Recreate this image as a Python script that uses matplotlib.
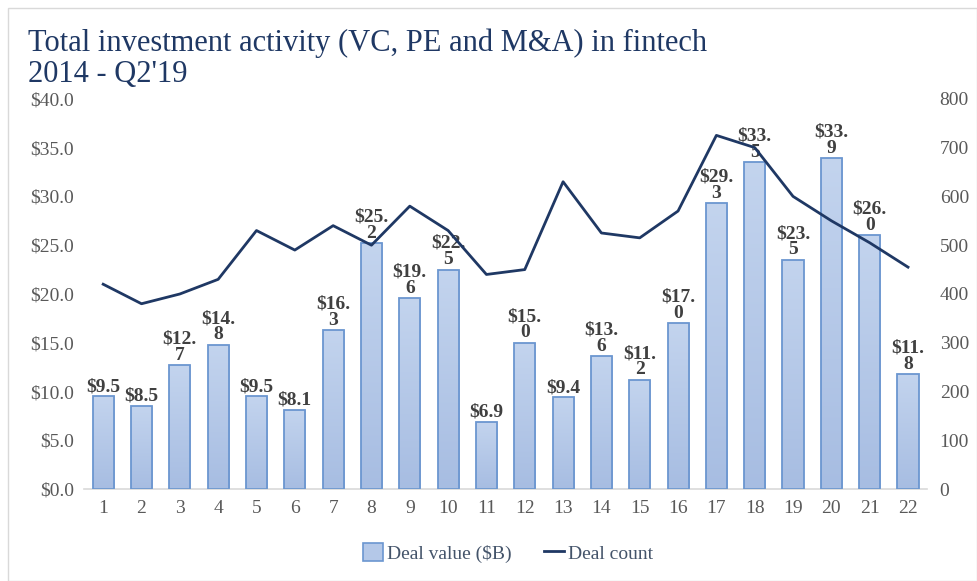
import matplotlib
matplotlib.use("Agg")
import matplotlib.pyplot as plt
import numpy as np
from matplotlib.patches import Rectangle
from matplotlib.lines import Line2D
from matplotlib.colors import LinearSegmentedColormap

plt.rcParams['font.family'] = ['Liberation Serif', 'DejaVu Serif']

periods = [str(i) for i in range(1, 23)]
deal_value = [9.5, 8.5, 12.7, 14.8, 9.5, 8.1, 16.3, 25.2, 19.6, 22.5, 6.9,
              15.0, 9.4, 13.6, 11.2, 17.0, 29.3, 33.5, 23.5, 33.9, 26.0, 11.8]
deal_count = [420, 380, 400, 430, 530, 490, 540, 500, 580, 530, 440,
              450, 630, 525, 515, 570, 725, 700, 600, 550, 505, 455]
left_ticks = [0, 5, 10, 15, 20, 25, 30, 35, 40]
right_ticks = [0, 100, 200, 300, 400, 500, 600, 700, 800]

title = "Total investment activity (VC, PE and M&A) in fintech\n2014 - Q2'19"

fig = plt.figure(figsize=(9.77, 5.81), dpi=100)
fig.patches.append(Rectangle((8 / 977, 0.0), 1 - 8 / 977, 1 - 8 / 581,
                             transform=fig.transFigure, fill=False,
                             edgecolor='#d9d9d9', linewidth=1.0))

ax = fig.add_axes([0.086, 0.158, 0.863, 0.672])
x = np.arange(len(periods))
bar_w = 0.55

grad = LinearSegmentedColormap.from_list('bargrad', ['#a7bde2', '#c3d4ee'])
gimg = np.linspace(0, 1, 256).reshape(-1, 1)
bars = ax.bar(x, deal_value, width=bar_w, facecolor='none',
              edgecolor='#6b96d0', linewidth=1.3, zorder=3)
for b in bars:
    x0, y0 = b.get_x(), b.get_y()
    w, h = b.get_width(), b.get_height()
    im = ax.imshow(gimg, cmap=grad, aspect='auto', origin='lower',
                   extent=(x0, x0 + w, y0, y0 + h), zorder=2)
    im.set_clip_path(b)

for xi, v in zip(x, deal_value):
    s = f"${v:.1f}"
    if len(s) > 4:
        dot = s.index('.')
        s = s[:dot + 1] + "\n" + s[dot + 1:]
    ax.annotate(s, (xi, v), xytext=(0, 1), textcoords='offset points',
                ha='center', va='bottom', fontsize=14, fontweight='bold',
                color='#404040', linespacing=0.95, zorder=5)

ax.set_xlim(-0.5, len(periods) - 0.5)
ax.set_ylim(0, 40)
ax.set_yticks(left_ticks)
ax.set_yticklabels([f"${t:.1f}" for t in left_ticks])
ax.set_xticks(x)
ax.set_xticklabels(periods)
ax.tick_params(axis='both', length=0, labelsize=14, colors='#595959')
ax.tick_params(axis='y', pad=7)
ax.tick_params(axis='x', pad=8)
for sp in ['top', 'right', 'left']:
    ax.spines[sp].set_visible(False)
ax.spines['bottom'].set_color('#d9d9d9')
ax.spines['bottom'].set_linewidth(1.2)

ax2 = ax.twinx()
ax2.plot(x, deal_count, color='#1f3864', linewidth=2.0, zorder=4)
ax2.set_ylim(0, 800)
ax2.set_yticks(right_ticks)
ax2.tick_params(axis='y', length=0, labelsize=14, colors='#595959', pad=9)
for sp in ['top', 'right', 'left', 'bottom']:
    ax2.spines[sp].set_visible(False)
ax.set_zorder(ax2.get_zorder() + 1)
ax.patch.set_visible(False)
ax2.set_zorder(1)

fig.text(28 / 977, 1 - 29 / 581, title, ha='left', va='top', fontsize=22,
         color='#1f3864', linespacing=1.08)

handles = [Rectangle((0, 0), 1, 1, facecolor='#b4c8e8', edgecolor='#6b96d0', linewidth=1.2),
           Line2D([0], [0], color='#1f3864', linewidth=2.0)]
fig.legend(handles, ['Deal value ($B)', 'Deal count'], loc='center',
           bbox_to_anchor=(0.52, 1 - 553 / 581), ncol=2, frameon=False,
           fontsize=14, handlelength=1.0, handleheight=1.0, handletextpad=0.2,
           columnspacing=1.7, labelcolor='#44546a')

fig.savefig('out.png', dpi=100)
